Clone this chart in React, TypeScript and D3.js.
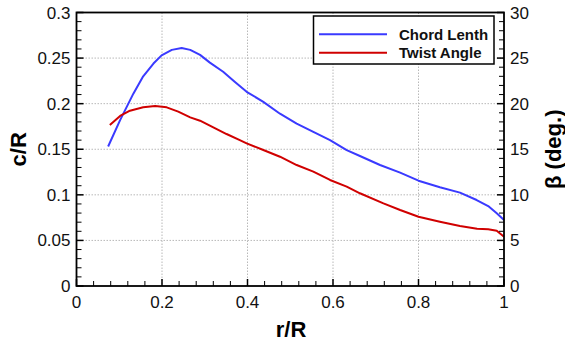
import React from "react";
import * as d3 from "d3";

const chordR = [0.074, 0.102, 0.133, 0.156, 0.18, 0.199, 0.223, 0.246, 0.266, 0.289, 0.312, 0.343, 0.37, 0.398, 0.437, 0.476, 0.515, 0.554, 0.593, 0.632, 0.663, 0.71, 0.757, 0.8, 0.85, 0.897, 0.936, 0.963, 0.983, 1.0];
const chordVal = [0.153, 0.182, 0.211, 0.23, 0.244, 0.253, 0.259, 0.261, 0.259, 0.2535, 0.245, 0.235, 0.224, 0.213, 0.202, 0.189, 0.178, 0.169, 0.16, 0.149, 0.1426, 0.1327, 0.1243, 0.1155, 0.1083, 0.1024, 0.0943, 0.0877, 0.0797, 0.0725];
const twistR = [0.078, 0.102, 0.125, 0.156, 0.184, 0.211, 0.238, 0.266, 0.289, 0.32, 0.351, 0.382, 0.398, 0.437, 0.476, 0.515, 0.554, 0.593, 0.632, 0.663, 0.718, 0.757, 0.8, 0.85, 0.897, 0.937, 0.963, 0.983, 1.0];
const twistDeg = [17.66, 18.65, 19.23, 19.6, 19.74, 19.6, 19.12, 18.5, 18.13, 17.4, 16.67, 16.0, 15.65, 14.92, 14.18, 13.27, 12.54, 11.63, 10.9, 10.17, 9.07, 8.34, 7.6, 7.05, 6.58, 6.29, 6.22, 6.07, 5.41];

const xTicks = [0, 0.2, 0.4, 0.6, 0.8, 1];
const xTickLabels = ["0", "0.2", "0.4", "0.6", "0.8", "1"];
const yTicks = [0, 0.05, 0.1, 0.15, 0.2, 0.25, 0.3];
const yTickLabels = ["0", "0.05", "0.1", "0.15", "0.2", "0.25", "0.3"];
const y2Ticks = [0, 5, 10, 15, 20, 25, 30];
const legendLabels = ["Chord Lenth", "Twist Angle"];

const BLUE = "#3a3aff";
const RED = "#d00000";
const FONT = "Liberation Sans, Arial, sans-serif";

export default function App() {
  const W = 565, H = 343;
  const L = 76.5, R = 504, T = 12.5, B = 286;
  const x = d3.scaleLinear().domain([0, 1]).range([L, R]);
  const y = d3.scaleLinear().domain([0, 0.3]).range([B, T]);
  const y2 = d3.scaleLinear().domain([0, 30]).range([B, T]);

  const chordLine = d3.line<number>().x((_, i) => x(chordR[i])).y((d) => y(d));
  const twistLine = d3.line<number>().x((_, i) => x(twistR[i])).y((d) => y2(d));

  const xMinor = d3.range(0, 1.0001, 0.04).filter((v) => Math.abs(v / 0.2 - Math.round(v / 0.2)) > 1e-6);
  const yMinor = d3.range(0, 0.3001, 0.01).filter((v) => Math.abs(v / 0.05 - Math.round(v / 0.05)) > 1e-6);
  const y2Minor = d3.range(0, 30.001, 1).filter((v) => v % 5 !== 0);

  const gridColor = "#b8b8b8";
  return (
    <svg width={W} height={H} style={{ position: "absolute", left: 0, top: 0 }} fontFamily={FONT}>
      <rect x={0} y={0} width={W} height={H} fill="#fff" />
      {/* grid */}
      {xTicks.slice(1, -1).map((t) => (
        <line key={"gx" + t} x1={x(t)} x2={x(t)} y1={T} y2={B} stroke={gridColor} strokeWidth={1} strokeDasharray="1.5,1.5" />
      ))}
      {yTicks.slice(1, -1).map((t) => (
        <line key={"gy" + t} x1={L} x2={R} y1={y(t)} y2={y(t)} stroke={gridColor} strokeWidth={1} strokeDasharray="1.5,1.5" />
      ))}
      {/* curves */}
      <path d={chordLine(chordVal) || ""} fill="none" stroke={BLUE} strokeWidth={2} strokeLinejoin="round" />
      <path d={twistLine(twistDeg) || ""} fill="none" stroke={RED} strokeWidth={2} strokeLinejoin="round" />
      {/* frame */}
      <rect x={L} y={T} width={R - L} height={B - T} fill="none" stroke="#000" strokeWidth={1.8} />
      {/* x ticks */}
      {xTicks.map((t) => (
        <line key={"xt" + t} x1={x(t)} x2={x(t)} y1={B} y2={B - 7} stroke="#000" strokeWidth={1.5} />
      ))}
      {xMinor.map((t) => (
        <line key={"xm" + t} x1={x(t)} x2={x(t)} y1={B} y2={B - 5} stroke="#000" strokeWidth={1} />
      ))}
      {/* y ticks */}
      {yTicks.map((t) => (
        <line key={"yt" + t} x1={L} x2={L + 7} y1={y(t)} y2={y(t)} stroke="#000" strokeWidth={1.5} />
      ))}
      {yMinor.map((t) => (
        <line key={"ym" + t} x1={L} x2={L + 5} y1={y(t)} y2={y(t)} stroke="#000" strokeWidth={1} />
      ))}
      {/* y2 ticks */}
      {y2Ticks.map((t) => (
        <line key={"y2t" + t} x1={R} x2={R - 7} y1={y2(t)} y2={y2(t)} stroke="#000" strokeWidth={1.5} />
      ))}
      {y2Minor.map((t) => (
        <line key={"y2m" + t} x1={R} x2={R - 5} y1={y2(t)} y2={y2(t)} stroke="#000" strokeWidth={1} />
      ))}
      {/* tick labels */}
      {xTicks.map((t, i) => (
        <text key={"xl" + t} x={x(t)} y={308} textAnchor="middle" fontSize={17} fill="#111">{xTickLabels[i]}</text>
      ))}
      {yTicks.map((t, i) => (
        <text key={"yl" + t} x={70.5} y={y(t) + 6} textAnchor="end" fontSize={17} fill="#111">{yTickLabels[i]}</text>
      ))}
      {y2Ticks.map((t) => (
        <text key={"y2l" + t} x={510} y={y2(t) + 6} textAnchor="start" fontSize={17} fill="#111">{String(t)}</text>
      ))}
      {/* axis titles */}
      <text x={291} y={337} textAnchor="middle" fontSize={22} fontWeight="bold">r/R</text>
      <text transform={`translate(26,${(T + B) / 2}) rotate(-90)`} textAnchor="middle" fontSize={22} fontWeight="bold">c/R</text>
      <text transform={`translate(561,${(T + B) / 2}) rotate(-90)`} textAnchor="middle" fontSize={22} fontWeight="bold">β (deg.)</text>
      {/* legend */}
      <rect x={313.5} y={16} width={180.5} height={48} fill="#fff" stroke="#000" strokeWidth={1.5} />
      {legendLabels.map((lab, i) => (
        <g key={lab}>
          <line x1={319} x2={387} y1={34.3 + i * 18.5} y2={34.3 + i * 18.5} stroke={i === 0 ? BLUE : RED} strokeWidth={2} />
          <text x={399} y={39.5 + i * 18.3} fontSize={15} fontWeight="bold" fill="#111">{lab}</text>
        </g>
      ))}
    </svg>
  );
}
